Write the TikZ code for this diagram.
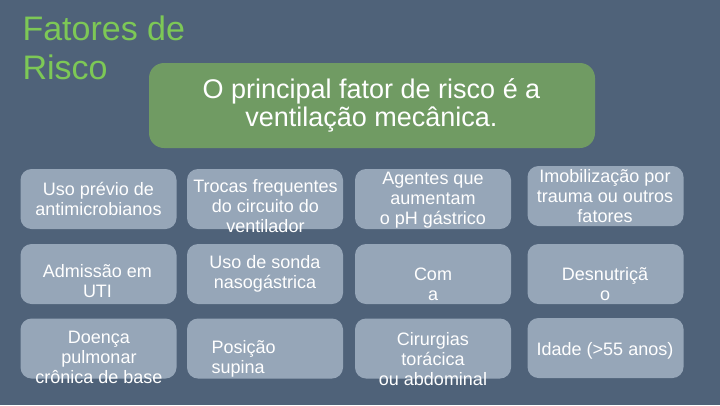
\documentclass[tikz,border=0pt]{standalone}
\usepackage{fontspec}
\setmainfont{Liberation Sans}
\usepackage{tikz}
\usetikzlibrary{positioning}

\definecolor{slidebg}{RGB}{79,98,121}
\definecolor{cardfill}{RGB}{150,166,184}
\definecolor{keygreen}{RGB}{112,155,99}
\definecolor{titlegreen}{RGB}{125,200,86}

\begin{document}
\begin{tikzpicture}[
    x=1pt, y=-1pt,
    card/.style={rectangle, rounded corners=11pt, fill=cardfill, minimum width=156pt, minimum height=60pt, inner sep=0pt},
    cardtxt/.style={anchor=north, inner sep=0pt, align=center, text=white, font=\fontsize{18}{20}\selectfont},
    keybox/.style={rectangle, rounded corners=15pt, fill=keygreen, minimum width=446pt, minimum height=85pt, inner sep=0pt},
    keytxt/.style={anchor=north, inner sep=0pt, align=center, text=white, font=\fontsize{27}{28.5}\selectfont},
    title/.style={anchor=north west, inner sep=0pt, align=left, text=titlegreen, font=\fontsize{34}{39}\selectfont},
]

% Slide background
\fill[slidebg] (0,0) rectangle (720,405);
\useasboundingbox (0,0) rectangle (720,405);

% Title
\node[title] (heading) at (22.3,12.7) {\strut Fatores de\\Risco};

% Main message
\node[keybox] (principal) at (372,105.5) {};
\node[keytxt] (principal-txt) at (371.5,78.3) {\strut O principal fator de risco é a\\ventilação mecânica.};

% Row 1 - Top cards
\node[card] (antimicrob) at (98.5,199) {};
\node[cardtxt] (antimicrob-txt) at (98.5,181) {\strut Uso prévio de\\antimicrobianos};

\node[card] (circuito) at (265,199) {};
\node[cardtxt] (circuito-txt) at (265.5,178) {\strut Trocas frequentes\\do circuito do\\ventilador};

\node[card] (phgastrico) at (433,199) {};
\node[cardtxt] (phgastrico-txt) at (433,170) {\strut Agentes que\\aumentam\\o pH gástrico};

\node[card] (imobil) at (605.5,196) {};
\node[cardtxt] (imobil-txt) at (605,168) {\strut Imobilização por\\trauma ou outros\\fatores};

% Row 2 - Middle cards
\node[card] (uti) at (98.5,274) {};
\node[cardtxt] (uti-txt) at (97.5,263) {\strut Admissão em\\UTI};

\node[card] (sonda) at (265,274) {};
\node[cardtxt] (sonda-txt) at (265,254.3) {\strut Uso de sonda\\nasogástrica};

\node[card] (coma) at (433,274) {};
\node[cardtxt] (coma-txt) at (433,266) {\strut Com\\a};

\node[card] (desnut) at (605.5,274) {};
\node[cardtxt] (desnut-txt) at (605,266) {\strut Desnutriçã\\o};

% Row 3 - Bottom cards
\node[card] (dpoc) at (98.5,348.5) {};
\node[cardtxt] (dpoc-txt) at (99,329.5) {\strut Doença\\pulmonar\\crônica de base};

\node[card] (supina) at (265,348.5) {};
\node[cardtxt, anchor=north west, align=left] (supina-txt) at (211.5,339.3) {\strut Posição\\supina};

\node[card] (cirurgia) at (433,348.5) {};
\node[cardtxt] (cirurgia-txt) at (433,331) {\strut Cirurgias\\torácica\\ou abdominal};

\node[card] (idade) at (605.5,348) {};
\node[cardtxt] (idade-txt) at (605,341) {\strut Idade (>55 anos)};

\end{tikzpicture}
\end{document}
